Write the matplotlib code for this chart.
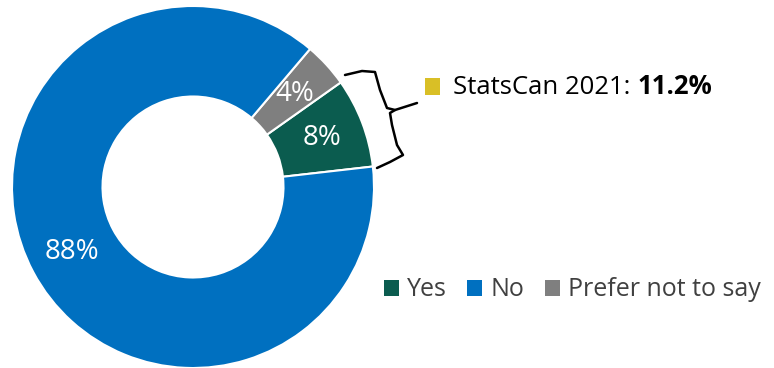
import matplotlib
matplotlib.use("Agg")
import matplotlib.pyplot as plt
from matplotlib.patches import Patch

plt.rcParams['font.family'] = ['Open Sans', 'DejaVu Sans']

# data
categories = ["Yes", "Prefer not to say", "No"]
values = [8, 4, 88]
colors = ["#0b5c4f", "#7f7f7f", "#0070c0"]
legend_order = ["Yes", "No", "Prefer not to say"]
benchmark_label = "StatsCan 2021: "
benchmark_value = "11.2%"
benchmark_color = "#d9bf26"

fig = plt.figure(figsize=(7.74, 3.68), dpi=100)

# donut
ax = fig.add_axes([12 / 774, 0.0, 362 / 774, 362 / 368])
wedges, texts, autotexts = ax.pie(
    values, colors=colors, startangle=6.5, counterclock=True,
    autopct=lambda p: "%d%%" % round(p), pctdistance=0.76,
    wedgeprops=dict(width=0.5, edgecolor="white", linewidth=1.5),
    textprops=dict(color="white", fontsize=20))
ax.set_xlim(-1, 1)
ax.set_ylim(-1, 1)
ax.set_aspect("equal")

# legend
cmap = dict(zip(categories, colors))
handles = [Patch(facecolor=cmap[c], edgecolor="none", label=c) for c in legend_order]
fig.legend(handles=handles, loc="center left", bbox_to_anchor=(366 / 774, 1 - 290 / 368),
           ncol=3, frameon=False, fontsize=18, handlelength=0.6, handleheight=0.6,
           handletextpad=0.35, columnspacing=0.8, labelcolor="#404040", borderpad=0.2)

# overlay for brace and benchmark text, in pixel coordinates
ov = fig.add_axes([0, 0, 1, 1])
ov.set_xlim(0, 774)
ov.set_ylim(368, 0)
ov.axis("off")

bx = [345, 362, 375, 380, 387, 395, 417]
by = [75, 71, 72, 90, 108, 110, 103]
ov.plot(bx, by, color="black", lw=1.8, solid_capstyle="round")
bx2 = [395, 390, 392, 397, 403, 390, 377]
by2 = [110, 113, 125, 145, 155, 162, 168]
ov.plot(bx2, by2, color="black", lw=1.8, solid_capstyle="round")

ov.add_patch(plt.Rectangle((425, 78), 15, 17, facecolor=benchmark_color, edgecolor="none"))
t1 = ov.text(453, 87, benchmark_label, fontsize=18.5, va="center", ha="left", color="black")
ov.annotate(benchmark_value, xy=(1, 0), xycoords=t1, va="bottom", ha="left",
            fontsize=18.5, fontweight="bold", color="black")

fig.savefig("out.png", dpi=100)
